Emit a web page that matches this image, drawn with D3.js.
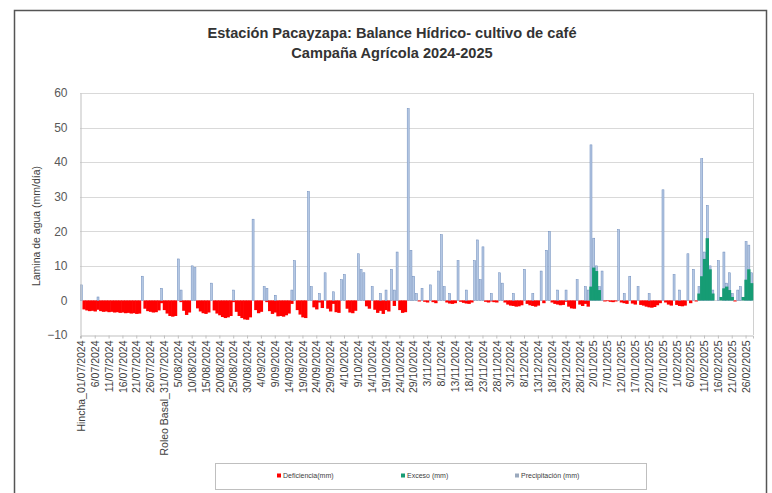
<!DOCTYPE html>
<html>
<head>
<meta charset="utf-8">
<script src="https://cdn.jsdelivr.net/npm/d3@7"></script>
<style>
  body { margin: 0; background: #fff; }
  svg { display: block; font-family: "Liberation Sans", Arial, sans-serif; }
</style>
</head>
<body>
<div id="chart"></div>
<script>
// daily series, 01/07/2024 .. 28/02/2025 (243 days)
const nDays = 243;

// Precipitación (mm)
const precipitacion = [
  4.5,0,0,0,0,0,1,0,0,0,
  0,0,0,0,0,0,0,0,0,0,
  0,0,7,0,0,0,0,0,0,3.5,
  0,0,0,0,0,12,3,0,0,0,
  10,9.5,0,0,0,0,0,5,0,0,
  0,0,0,0,0,3,0,0,0,0,
  0,0,23.5,0,0,0,4,3.5,0,0,
  1.5,0,0,0,0,0,3,11.5,0,0,
  0,0,31.5,4,0,0,2,0,8,0,
  0,2.5,0,0,6,7.5,0,0,0,0,
  13.5,9,8,0,0,4,0,0,2,0,
  3,0,9,3,14,0,0,0,55.5,14.5,
  7,2,0,3.5,0,0,4.5,0,0,8.5,
  19,4,0,2,0,0,11.5,0,0,3,
  0,0,11.5,17.5,6,15.5,0,0,2,0,
  0,8,5,0,0,0,2,0,0,0,
  9,0,0,2,0,0,8.5,0,14.5,20,
  0,0,3,0,0,3,0,0,0,6,
  0,0,4,3,45,18,10,4,8.5,0,
  0,0,0,0,20.5,0,2,0,7,0,
  0,4,0,0,0,2,0,0,0,0,
  32,0,0,0,7.5,0,3,0,0,13.5,
  0,9,0,4,41,14,27.5,10,3,0,
  11.5,0,14,5,8,2,0,3,4,0,
  17,16,8
];

// Deficiencia (mm)
const deficiencia = [
  0,-2.6,-2.9,-3.1,-3.0,-3.2,-2.7,-3.1,-3.3,-3.2,
  -3.4,-3.3,-3.5,-3.4,-3.6,-3.5,-3.7,-3.6,-3.8,-3.7,
  -3.9,-3.8,0,-2.4,-3.1,-3.3,-3.5,-3.4,-2.9,-0.8,
  -2.8,-3.8,-4.5,-4.7,-4.5,0,-0.5,-3.0,-4.2,-3.5,
  0,0,-2.3,-3.2,-3.7,-3.9,-3.5,0,-2.9,-3.8,
  -4.3,-4.8,-5.1,-4.9,-4.5,-0.5,-3.3,-4.5,-5.1,-5.5,
  -5.6,-4.9,0,-2.8,-3.7,-3.3,0,-0.5,-3.1,-3.9,
  -3.5,-4.6,-4.5,-4.7,-4.3,-3.8,-1.0,0,-2.8,-4.1,
  -4.9,-5.1,0,0,-2.0,-2.6,-0.6,-2.2,0,-2.4,
  -3.2,-1.0,-3.4,-3.6,0,0,-2.4,-3.5,-3.7,-3.0,
  0,0,0,-1.7,-2.4,0,-2.7,-3.6,-3.0,-3.9,
  -2.8,-3.2,0,-1.6,0,-2.8,-3.6,-3.4,0,0,
  0,0,-0.3,0,-0.4,-0.6,0,-0.5,-0.8,0,
  0,0,-0.6,-0.9,-1.0,-0.8,0,-0.4,-0.7,-0.9,
  -1.0,-0.6,0,0,0,0,-0.4,-0.6,-0.3,-0.5,
  -0.6,0,0,-0.6,-1.2,-1.5,-1.6,-1.8,-1.7,-1.4,
  0,-1.0,-1.4,-1.6,-1.8,-1.5,0,-0.8,0,0,
  -0.6,-1.0,-1.2,-1.4,-1.3,-0.4,-1.8,-2.3,-2.4,0,
  -1.2,-1.6,-1.0,-1.8,0,0,0,0,0,-0.3,
  -0.2,-0.4,-0.5,-0.3,0,-0.6,-0.8,-1.0,0,-0.9,
  -1.2,0,-1.3,-1.5,-1.8,-2.0,-2.1,-1.9,-1.4,-0.8,
  0,-0.6,-1.2,-1.5,0,-1.3,-1.6,-1.7,-1.5,0,
  -0.8,0,-0.3,0,0,0,0,0,0,0,
  0,0,0,0,0,0,-0.3,0,0,0,
  0,0,0
];

// Exceso (mm)
const exceso = [
  0,0,0,0,0,0,0,0,0,0, 0,0,0,0,0,0,0,0,0,0,
  0,0,0,0,0,0,0,0,0,0, 0,0,0,0,0,0,0,0,0,0,
  0,0,0,0,0,0,0,0,0,0, 0,0,0,0,0,0,0,0,0,0,
  0,0,0,0,0,0,0,0,0,0, 0,0,0,0,0,0,0,0,0,0,
  0,0,0,0,0,0,0,0,0,0, 0,0,0,0,0,0,0,0,0,0,
  0,0,0,0,0,0,0,0,0,0, 0,0,0,0,0,0,0,0,0,0,
  0,0,0,0,0,0,0,0,0,0, 0,0,0,0,0,0,0,0,0,0,
  0,0,0,0,0,0,0,0,0,0, 0,0,0,0,0,0,0,0,0,0,
  0,0,0,0,0,0,0,0,0,0, 0,0,0,0,0,0,0,0,0,0,
  0,0,0,0,4,9.5,8.5,3,0,0,
  0,0,0,0,0,0,0,0,0,0, 0,0,0,0,0,0,0,0,0,0,
  0,0,0,0,0,0,0,0,0,0,
  0,0,0,2,7,12,18,9,2,0,
  0,1,3.5,4,3,1,0,0,0,1,
  6,9,5
];

// x labels, every 5 days
const tickLabels = [
  "Hincha_01/07/2024","6/07/2024","11/07/2024","16/07/2024","21/07/2024","26/07/2024",
  "Roleo Basal_31/07/2024","5/08/2024","10/08/2024","15/08/2024","20/08/2024","25/08/2024",
  "30/08/2024","4/09/2024","9/09/2024","14/09/2024","19/09/2024","24/09/2024","29/09/2024",
  "4/10/2024","9/10/2024","14/10/2024","19/10/2024","24/10/2024","29/10/2024",
  "3/11/2024","8/11/2024","13/11/2024","18/11/2024","23/11/2024","28/11/2024",
  "3/12/2024","8/12/2024","13/12/2024","18/12/2024","23/12/2024","28/12/2024",
  "2/01/2025","7/01/2025","12/01/2025","17/01/2025","22/01/2025","27/01/2025",
  "1/02/2025","6/02/2025","11/02/2025","16/02/2025","21/02/2025","26/02/2025"
];
const tickStep = 5;

const yTicks = [-10, 0, 10, 20, 30, 40, 50, 60];

const seriesNames = ["Deficiencia(mm)", "Exceso (mm)", "Precipitación (mm)"];
const colors = { def: "#ff0000", exc: "#169c74", pre: "#6d8bbb", preFill: "#b5c8e4" };

const W = 772, H = 493;
const plot = { left: 80, right: 753, top: 93, bottom: 335 };

const days = d3.range(nDays);

const svg = d3.select("#chart").append("svg")
  .attr("width", W).attr("height", H);

// outer frame
svg.append("rect")
  .attr("x", 14.5).attr("y", 10.5)
  .attr("width", 752).attr("height", 500)
  .attr("fill", "#fff")
  .attr("stroke", "#555").attr("stroke-width", 1.5);

// title
const title = svg.append("g").attr("font-weight", "bold").attr("fill", "#333")
  .attr("text-anchor", "middle").attr("font-size", 14.6);
title.append("text").attr("x", 392).attr("y", 38).text("Estación Pacayzapa: Balance Hídrico- cultivo de café");
title.append("text").attr("x", 392).attr("y", 58).text("Campaña Agrícola 2024-2025");

let x = d3.scaleBand()
  .domain(days)
  .range([plot.left, plot.right]);
const bw = x.bandwidth();
const cx = i => x(i) + bw / 2;

let y = d3.scaleLinear()
  .domain([-10, 60])
  .range([plot.bottom, plot.top]);

// gridlines
svg.append("g")
  .selectAll("line")
  .data(yTicks.filter(d => d > -10))
  .enter().append("line")
    .attr("x1", plot.left).attr("x2", plot.right)
    .attr("y1", d => Math.round(y(d)) + 0.5).attr("y2", d => Math.round(y(d)) + 0.5)
    .attr("stroke", "#d9d9d9").attr("stroke-width", 1);

// right border of plot area
svg.append("line")
  .attr("x1", plot.right + 0.5).attr("x2", plot.right + 0.5)
  .attr("y1", plot.top).attr("y2", plot.bottom)
  .attr("stroke", "#d0d0d0");

// deficiency columns (full width, no gap)
svg.append("g")
  .selectAll("rect")
  .data(days.filter(d => deficiencia[d] < 0))
  .enter().append("rect")
    .attr("x", d => x(d) - 0.3)
    .attr("width", bw + 0.6)
    .attr("y", y(0))
    .attr("height", d => y(deficiencia[d]) - y(0))
    .attr("fill", colors.def);

// precipitation: thin columns
svg.append("g")
  .selectAll("rect")
  .data(days.filter(d => precipitacion[d] > 0))
  .enter().append("rect")
    .attr("x", d => cx(d) - 1)
    .attr("width", 2)
    .attr("y", d => y(precipitacion[d]))
    .attr("height", d => y(0) - y(precipitacion[d]))
    .attr("fill", colors.preFill)
    .attr("stroke", colors.pre)
    .attr("stroke-width", 0.5);

// excess columns
svg.append("g")
  .selectAll("rect")
  .data(days.filter(d => exceso[d] > 0))
  .enter().append("rect")
    .attr("x", d => x(d) - 0.3)
    .attr("width", bw + 0.6)
    .attr("y", d => y(exceso[d]))
    .attr("height", d => y(0) - y(exceso[d]))
    .attr("fill", colors.exc);

// y axis
let yAxis = d3.axisLeft(y).tickValues(yTicks).tickSize(0).tickPadding(13);
const gy = svg.append("g")
  .attr("transform", "translate(" + (plot.left + 0.5) + ",0)")
  .call(yAxis);
gy.select(".domain").attr("stroke", "#bfbfbf");
gy.selectAll(".tick text")
  .attr("fill", "#595959")
  .attr("font-size", 12)
  .attr("font-family", "Liberation Sans, Arial, sans-serif");

// x axis at bottom
let xAxis = d3.axisBottom(x)
  .tickValues(days.filter(d => d % tickStep === 0))
  .tickSize(3)
  .tickFormat(d => tickLabels[d / tickStep]);
const gx = svg.append("g")
  .attr("transform", "translate(0," + (plot.bottom + 0.5) + ")")
  .call(xAxis);
gx.select(".domain").attr("stroke", "#bfbfbf");
gx.selectAll(".tick line").attr("stroke", "#bfbfbf");
gx.selectAll(".tick text")
  .attr("fill", "#404040")
  .attr("font-size", 10.5)
  .attr("font-family", "Liberation Sans, Arial, sans-serif")
  .attr("text-anchor", "end")
  .attr("transform", "rotate(-90)")
  .attr("x", -5)
  .attr("y", 0)
  .attr("dy", "0.35em");

// y axis title
svg.append("text")
  .attr("transform", "translate(39.5,226) rotate(-90)")
  .attr("text-anchor", "middle")
  .attr("font-size", 10.5)
  .attr("fill", "#404040")
  .text("Lamina de agua (mm/día)");

// legend
const legend = svg.append("g");
legend.append("rect")
  .attr("x", 215.5).attr("y", 463.5)
  .attr("width", 431).attr("height", 26)
  .attr("fill", "#fff").attr("stroke", "#bfbfbf");

const legendX = [277, 401, 515];
const legendColors = [colors.def, colors.exc, "#9aa9bd"];
let item = legend.selectAll("g.item")
  .data(seriesNames)
  .enter().append("g")
  .attr("class", "item")
  .attr("transform", (d, i) => "translate(" + legendX[i] + ",476)");
item.append("rect")
  .attr("x", 0).attr("y", -2.5)
  .attr("width", 4).attr("height", 4)
  .attr("fill", (d, i) => legendColors[i]);
item.append("text")
  .attr("x", 6).attr("y", 0).attr("dy", "0.35em")
  .attr("font-size", 7)
  .attr("fill", "#404040")
  .text(d => d);
</script>
</body>
</html>
